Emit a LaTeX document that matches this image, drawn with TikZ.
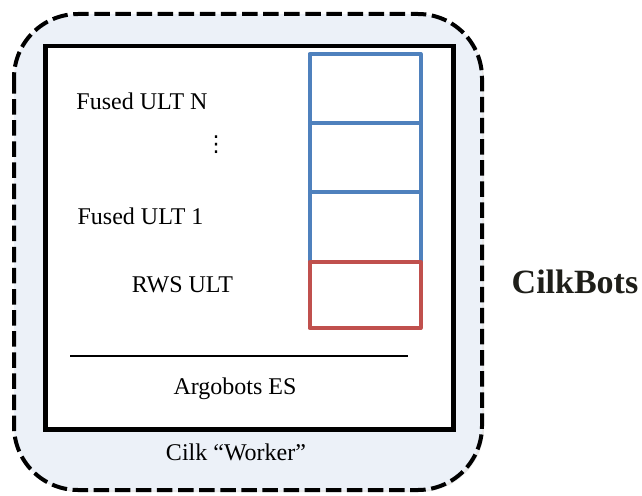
\documentclass[tikz,border=0pt]{standalone}
\usepackage{fontspec}
\setmainfont{Liberation Serif}
\newfontfamily\symfont{DejaVu Sans}
\usetikzlibrary{shadows}
\definecolor{workerfill}{RGB}{236,241,248}
\definecolor{ultblue}{RGB}{79,129,189}
\definecolor{rwsred}{RGB}{192,80,77}
\tikzset{
  worker/.style={draw=black, line width=4pt, dash pattern=on 15.5pt off 5.6pt,
    fill=workerfill, rounded corners=64pt,
    drop shadow={opacity=0.18, shadow xshift=2pt, shadow yshift=-2pt}},
  esbox/.style={draw=black, line width=4.5pt, fill=white},
  ultbox/.style={draw=ultblue, line width=4pt, line join=round},
  rwsbox/.style={draw=rwsred, line width=4pt, line join=round},
  lbl/.style={inner sep=0pt, anchor=base, font=\fontsize{24}{28}\selectfont},
}
\begin{document}
\begin{tikzpicture}[x=1pt, y=-1pt]
\useasboundingbox (0,0) rectangle (642,495);

% Cilk worker (dashed rounded frame)
\draw[worker] (14,14) rectangle (482,490);

% Argobots execution stream
\draw[esbox] (45.5,46) rectangle (453.5,429.5);

% ULT stack
\draw[ultbox] (309.5,54) rectangle (420.5,122.5);
\draw[ultbox] (309.5,122.5) rectangle (420.5,191.5);
\draw[ultbox] (309.5,191.5) rectangle (420.5,262);
\draw[rwsbox] (309.5,262) rectangle (420.5,328);

% separator between ULTs and ES
\coordinate (sepL) at (70,356);
\coordinate (sepR) at (408,356);
\draw[line width=2pt] (sepL) -- (sepR);

% labels
\node[lbl] (fusedN) at (142,109.3) {Fused ULT N};
\node[inner sep=0pt, font=\symfont\fontsize{22}{22}\selectfont] (dots) at (216,145) {⋮};
\node[lbl] (fused1) at (140.5,224) {Fused ULT 1};
\node[lbl] (rws) at (182.5,292.3) {RWS ULT};
\node[lbl] (es) at (235,394.3) {Argobots ES};
\node[lbl] (worker) at (236,460.7) {Cilk “Worker”};
\node[inner sep=0pt, anchor=base, font=\fontsize{34}{40}\selectfont\bfseries,
  text={rgb,255:red,30;green,30;blue,25}] (cilkbots) at (575,293.3) {CilkBots};
\end{tikzpicture}
\end{document}
